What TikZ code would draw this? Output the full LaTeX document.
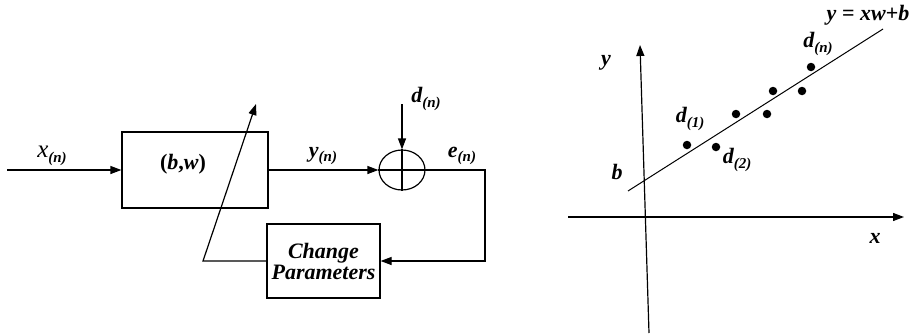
\documentclass[tikz,border=0pt]{standalone}
\usepackage{fontspec}
\setmainfont{Liberation Serif}
\usetikzlibrary{arrows.meta,positioning,shapes.geometric}
\newcommand{\idx}[1]{\raisebox{-.45ex}{\fontsize{15}{15}\selectfont\bfseries(\textit{#1})}}
\tikzset{
  >={Triangle[length=11pt,width=8pt]},
  ln/.style    ={line width=1.2pt},
  ar/.style    ={->,line width=1.2pt},
  blk/.style   ={draw,line width=1.2pt,align=center,inner sep=1pt,
                 font=\fontsize{22}{24}\selectfont\bfseries},
  sumnode/.style={draw,ellipse,line width=1.2pt,minimum width=46pt,minimum height=40pt,inner sep=0pt},
  lbl/.style   ={inner sep=1pt,font=\fontsize{22}{24}\selectfont\bfseries\itshape},
  dot/.style   ={circle,fill,inner sep=0pt,minimum size=8.5pt},
}

\begin{document}
\begin{tikzpicture}[x=1pt,y=-1pt]
\useasboundingbox (0,0) rectangle (913,335);

% adaptive block diagram
\node[blk,minimum width=146pt,minimum height=76pt] (bw) at (195,170) {};
\node[font=\fontsize{22}{24}\selectfont\bfseries] (bwtxt) at (183,164) {(\textit{b},\textit{w})};
\node[sumnode] (sum) at (402,170) {};
\node[blk,minimum width=113pt,minimum height=74pt] (chg) at (323.5,261)
   {\textit{Change}\\[-3pt]\textit{Parameters}};
\draw[ln] (sum.north) -- (sum.south);
\draw[ln] (sum.west) -- (sum.east);

\coordinate (xin)  at (7,170);
\coordinate (dsrc) at (402,104);
\coordinate (eout) at (485,261);
\coordinate (fb)   at (203,261);
\coordinate (tip)  at (256,104);

\draw[ar] (xin) -- (bw.west);
\draw[ar] (bw.east) -- (sum.west);
\draw[ar] (dsrc) -- (sum.north);
\draw[ar] (sum.east) -| (eout) -- (chg.east);
\draw[ar] (chg.west) -- (fb) -- (tip);

\node[lbl] (xl) at (52,156) {{\mdseries\fontsize{25}{25}\selectfont x}\idx{n}};
\node[lbl] (yl) at (323,156) {y\idx{n}};
\node[lbl] (el) at (462,156) {e\idx{n}};
\node[lbl] (dl) at (426,99)  {d\idx{n}};

% regression plot
\coordinate (xa0) at (568,217);
\coordinate (xa1) at (904,217);
\coordinate (ya0) at (649,333);
\coordinate (ya1) at (640,45);
\coordinate (fl0) at (628,191);
\coordinate (fl1) at (883,29);

\draw[ar] (xa0) -- (xa1);
\draw[ar] (ya0) -- (ya1);
\draw[ln,line width=1pt] (fl0) -- (fl1);

\foreach \p [count=\i] in {(687,145),(716,147),(736,114),(767,114),(773,91),(802,91),(811,67)}
  \node[dot] (p\i) at \p {};

\node[lbl] (d1) at (690,119) {d\idx{1}};
\node[lbl] (d2) at (737,160) {d\idx{2}};
\node[lbl] (dn) at (818,44)  {d\idx{n}};
\node[lbl] (bl) at (617,172) {b};
\node[lbl] (yax) at (606,63) {y};
\node[lbl] (xax) at (875,238) {x};
\node[lbl] (eq) at (868,15) {y \textup{=} xw\textup{+}b};
\end{tikzpicture}
\end{document}
